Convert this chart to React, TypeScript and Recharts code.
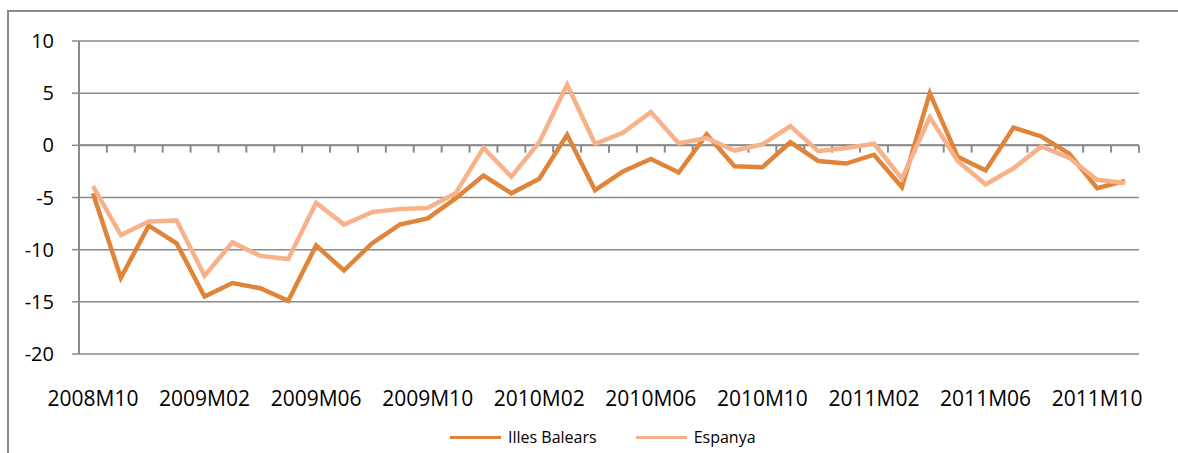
import { CartesianGrid, Legend, Line, LineChart, ReferenceLine, XAxis, YAxis } from "recharts";

const MONTHS = [
  "2008M10", "2008M11", "2008M12",
  "2009M01", "2009M02", "2009M03", "2009M04", "2009M05", "2009M06",
  "2009M07", "2009M08", "2009M09", "2009M10", "2009M11", "2009M12",
  "2010M01", "2010M02", "2010M03", "2010M04", "2010M05", "2010M06",
  "2010M07", "2010M08", "2010M09", "2010M10", "2010M11", "2010M12",
  "2011M01", "2011M02", "2011M03", "2011M04", "2011M05", "2011M06",
  "2011M07", "2011M08", "2011M09", "2011M10", "2011M11",
];

const ILLES_BALEARS = [
  -4.6, -12.7, -7.7, -9.4, -14.5, -13.2, -13.7, -14.9, -9.6, -12.0,
  -9.4, -7.6, -7.0, -5.1, -2.9, -4.6, -3.2, 1.0, -4.3, -2.5,
  -1.3, -2.6, 1.05, -2.0, -2.1, 0.3, -1.5, -1.75, -0.9, -4.0,
  5.0, -1.1, -2.4, 1.7, 0.85, -0.8, -4.1, -3.4,
];

const ESPANYA = [
  -3.9, -8.6, -7.3, -7.2, -12.5, -9.3, -10.6, -10.9, -5.5, -7.6,
  -6.4, -6.1, -6.0, -4.6, -0.25, -3.0, 0.3, 5.8, 0.15, 1.2,
  3.2, 0.2, 0.7, -0.5, 0.1, 1.85, -0.55, -0.25, 0.15, -3.2,
  2.7, -1.5, -3.75, -2.2, -0.1, -1.2, -3.3, -3.6,
];

const SERIES_ORDER = ["Illes Balears", "Espanya"];
const Y_TICKS = [-20, -15, -10, -5, 0, 5, 10];
const LABEL_EVERY = 4;

const GRAY = "#8a8a8a";
const FONT = "'Open Sans', sans-serif";

const data = MONTHS.map((month, i) => ({
  i,
  month,
  illes: ILLES_BALEARS[i],
  espanya: ESPANYA[i],
}));

// one label every 4 months, tick marks on the zero line between months
const labelTicks = data.filter((d) => d.i % LABEL_EVERY === 0).map((d) => d.i);
const boundaries = [...data.map((d) => d.i - 0.5), MONTHS.length - 0.5];

// eslint-disable-next-line @typescript-eslint/no-explicit-any
function LegendContent({ payload }: any) {
  const items = [...(payload ?? [])].sort(
    (a: any, b: any) => SERIES_ORDER.indexOf(a.value) - SERIES_ORDER.indexOf(b.value),
  );
  return (
    <div style={{ display: "flex", alignItems: "center", fontFamily: FONT, fontSize: 16, color: "#000" }}>
      {items.map((p: any) => (
        <div key={p.value} style={{ display: "flex", alignItems: "center", marginRight: 39 }}>
          <span style={{ display: "inline-block", width: 51, height: 3, background: p.color, marginRight: 7 }} />
          <span>{p.value}</span>
        </div>
      ))}
    </div>
  );
}

export default function App() {
  return (
    <div style={{ position: "absolute", left: 0, top: 0, width: 1178, height: 453, overflow: "hidden", background: "#fff" }}>
      <div
        style={{
          position: "absolute",
          left: 7,
          top: 10,
          width: 1200,
          height: 500,
          border: `2px solid ${GRAY}`,
        }}
      />
      <div style={{ position: "absolute", left: 0, top: 0 }}>
        <LineChart width={1178} height={453} data={data} margin={{ top: 41, right: 39, bottom: 0, left: 0 }}>
          <CartesianGrid vertical={false} stroke={GRAY} strokeWidth={1.5} />
          <XAxis
            dataKey="i"
            type="number"
            domain={[-0.5, MONTHS.length - 0.5]}
            ticks={labelTicks}
            tickFormatter={(v) => MONTHS[Number(v)] ?? ""}
            height={99}
            axisLine={false}
            tickLine={false}
            tickSize={0}
            tickMargin={37}
            interval={0}
            tick={{ fill: "#000", fontSize: 21, fontFamily: FONT }}
          />
          <YAxis
            domain={[-20, 10]}
            ticks={Y_TICKS}
            width={79}
            interval={0}
            axisLine={{ stroke: GRAY, strokeWidth: 2 }}
            tickLine={{ stroke: GRAY, strokeWidth: 1.5 }}
            tickSize={7}
            tickMargin={18}
            tick={{ fill: "#000", fontSize: 20, fontFamily: FONT }}
          />
          <ReferenceLine y={0} stroke={GRAY} strokeWidth={2} />
          {boundaries.map((b) => (
            <ReferenceLine
              key={b}
              segment={[
                { x: b, y: 0 },
                { x: b, y: -0.7 },
              ]}
              stroke={GRAY}
              strokeWidth={2}
            />
          ))}
          <Line
            type="linear"
            dataKey="illes"
            name="Illes Balears"
            stroke="#e0843a"
            strokeWidth={4.5}
            dot={false}
            isAnimationActive={false}
          />
          <Line
            type="linear"
            dataKey="espanya"
            name="Espanya"
            stroke="#f7b28a"
            strokeWidth={4.5}
            dot={false}
            isAnimationActive={false}
          />
          <Legend
            layout="horizontal"
            verticalAlign="middle"
            align="center"
            wrapperStyle={{ left: 450, top: 426, width: 360 }}
            content={<LegendContent />}
          />
        </LineChart>
      </div>
    </div>
  );
}
